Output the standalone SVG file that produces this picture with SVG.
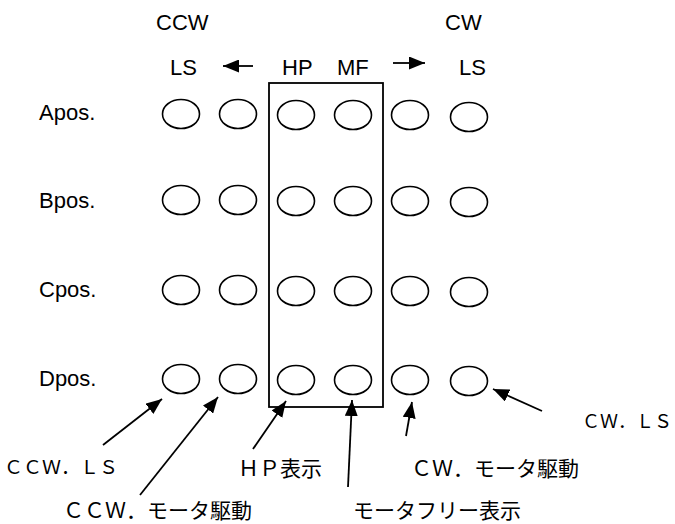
<svg xmlns="http://www.w3.org/2000/svg" width="675" height="524" viewBox="0 0 675 524">
<defs>
<style>
.t{font-family:"Liberation Sans",Arial,sans-serif;font-size:22px;fill:#000}
.j{font-family:"Noto Sans CJK JP","Noto Sans",sans-serif;font-size:21px;fill:#000}
.js{font-size:19px}
.c{fill:#fff;stroke:#000;stroke-width:1.6}
.ln{stroke:#000;stroke-width:1.8;fill:none}
.box{fill:none;stroke:#000;stroke-width:1.8}
</style>
<marker id="ah" markerUnits="userSpaceOnUse" markerWidth="17" markerHeight="13" refX="16" refY="6.5" orient="auto">
<path d="M0,0 L16,6.5 L0,13 z" fill="#000"/>
</marker>
</defs>
<rect width="675" height="524" fill="#fff"/>
<g id="headers">
<text class="t" x="156" y="30">CCW</text>
<text class="t" x="445" y="30">CW</text>
<text class="t" x="170" y="75">LS</text>
<text class="t" x="282" y="75">HP</text>
<text class="t" x="337" y="75">MF</text>
<text class="t" x="459" y="75">LS</text>
<line class="ln" x1="253" y1="66" x2="223" y2="66" marker-end="url(#ah)"/>
<line class="ln" x1="393" y1="63" x2="425" y2="63" marker-end="url(#ah)"/>
</g>
<g id="rowlabels">
<text class="t" x="39" y="120">Apos.</text>
<text class="t" x="39" y="208">Bpos.</text>
<text class="t" x="39" y="297">Cpos.</text>
<text class="t" x="39" y="386">Dpos.</text>
</g>
<g id="box"><rect class="box" x="269" y="83" width="114" height="324"/></g>
<g id="rowA">
<ellipse class="c" cx="181" cy="114" rx="18.5" ry="14.5"/>
<ellipse class="c" cx="238" cy="114" rx="18.5" ry="14.5"/>
<ellipse class="c" cx="296" cy="115" rx="18.5" ry="14.5"/>
<ellipse class="c" cx="353" cy="115" rx="18.5" ry="14.5"/>
<ellipse class="c" cx="410" cy="115" rx="18.5" ry="14.5"/>
<ellipse class="c" cx="469" cy="117" rx="18.5" ry="14.5"/>
</g>
<g id="rowB">
<ellipse class="c" cx="181" cy="200" rx="18.5" ry="14.5"/>
<ellipse class="c" cx="238" cy="200" rx="18.5" ry="14.5"/>
<ellipse class="c" cx="296" cy="201" rx="18.5" ry="14.5"/>
<ellipse class="c" cx="353" cy="201" rx="18.5" ry="14.5"/>
<ellipse class="c" cx="410" cy="201" rx="18.5" ry="14.5"/>
<ellipse class="c" cx="469" cy="202" rx="18.5" ry="14.5"/>
</g>
<g id="rowC">
<ellipse class="c" cx="181" cy="290" rx="18.5" ry="14.5"/>
<ellipse class="c" cx="238" cy="290" rx="18.5" ry="14.5"/>
<ellipse class="c" cx="296" cy="291" rx="18.5" ry="14.5"/>
<ellipse class="c" cx="353" cy="291" rx="18.5" ry="14.5"/>
<ellipse class="c" cx="410" cy="291" rx="18.5" ry="14.5"/>
<ellipse class="c" cx="469" cy="292" rx="18.5" ry="14.5"/>
</g>
<g id="rowD">
<ellipse class="c" cx="181" cy="379" rx="18.5" ry="14.5"/>
<ellipse class="c" cx="238" cy="379" rx="18.5" ry="14.5"/>
<ellipse class="c" cx="296" cy="380" rx="18.5" ry="14.5"/>
<ellipse class="c" cx="353" cy="380" rx="18.5" ry="14.5"/>
<ellipse class="c" cx="410" cy="380" rx="18.5" ry="14.5"/>
<ellipse class="c" cx="469" cy="381" rx="18.5" ry="14.5"/>
</g>
<g id="connectors">
<line class="ln" x1="103" y1="445" x2="162" y2="399" marker-end="url(#ah)"/>
<line class="ln" x1="140" y1="495" x2="218" y2="397" marker-end="url(#ah)"/>
<line class="ln" x1="253" y1="449" x2="286" y2="401" marker-end="url(#ah)"/>
<line class="ln" x1="348" y1="487" x2="352" y2="400" marker-end="url(#ah)"/>
<line class="ln" x1="406" y1="436" x2="412" y2="402" marker-end="url(#ah)"/>
<line class="ln" x1="542" y1="411" x2="493" y2="389" marker-end="url(#ah)"/>
</g>
<g id="labels">
<text class="j js" x="4" y="474">ＣＣＷ．ＬＳ</text>
<text class="j" x="63" y="518">ＣＣＷ．モータ駆動</text>
<text class="j" x="238" y="476">ＨＰ表示</text>
<text class="j" x="411" y="476">ＣＷ．モータ駆動</text>
<text class="j" x="353" y="518">モータフリー表示</text>
<text class="j" x="582" y="428" style="font-size:18px">ＣＷ．ＬＳ</text>
</g>
</svg>
